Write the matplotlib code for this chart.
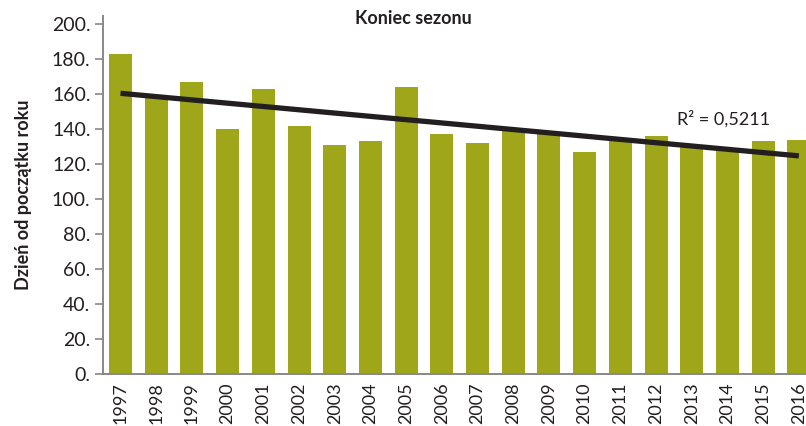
import numpy as np
import matplotlib
matplotlib.use("Agg")
import matplotlib.pyplot as plt

years = [str(y) for y in range(1997, 2017)]
days = [183, 158, 167, 140, 163, 142, 131, 133, 164, 137,
        132, 140, 137, 127, 135, 136, 131, 128, 133, 134]
r2_label = "R² = 0,5211"
title = "Koniec sezonu"
ylabel = "Dzień od początku roku"
yticks = [0, 20, 40, 60, 80, 100, 120, 140, 160, 180, 200]

plt.rcParams['font.family'] = ['Lato', 'DejaVu Sans']

fig = plt.figure(figsize=(8.06, 4.26), dpi=100)
ax = fig.add_axes([0.1278, 0.122, 0.8722, 0.8404])

x = np.arange(len(years))
ax.bar(x, days, width=0.645, color='#9fa619', zorder=2)

# linear trend
k, b = np.polyfit(x, days, 1)
ax.plot([x[0], x[-1]], [k * x[0] + b, k * x[-1] + b], color='#231f20',
        linewidth=3.8, solid_capstyle='butt', zorder=3)

ax.text(15.6, 146, r2_label, fontsize=13, color='#231f20', va='center')

ax.set_xlim(-0.49, 19.2)
ax.set_ylim(0, 204.6)
ax.set_yticks(yticks)
ax.set_yticklabels([f"{v}." for v in yticks], fontsize=14, color='#231f20')
ax.set_xticks(x)
ax.set_xticklabels(years, rotation=90, fontsize=13, color='#231f20')
ax.tick_params(axis='x', length=0, pad=6)
ax.tick_params(axis='y', length=6, width=1.2, color='#888888', pad=3)

for s in ['top', 'right']:
    ax.spines[s].set_visible(False)
for s in ['left', 'bottom']:
    ax.spines[s].set_color('#888888')
    ax.spines[s].set_linewidth(1.4)

ax.set_ylabel(ylabel, fontsize=13, fontweight='bold', color='#231f20', labelpad=14)
fig.text(413 / 806, 1 - 19 / 426, title, fontsize=13, fontweight='bold',
         color='#231f20', ha='center', va='center')

fig.savefig("out.png", dpi=100)
